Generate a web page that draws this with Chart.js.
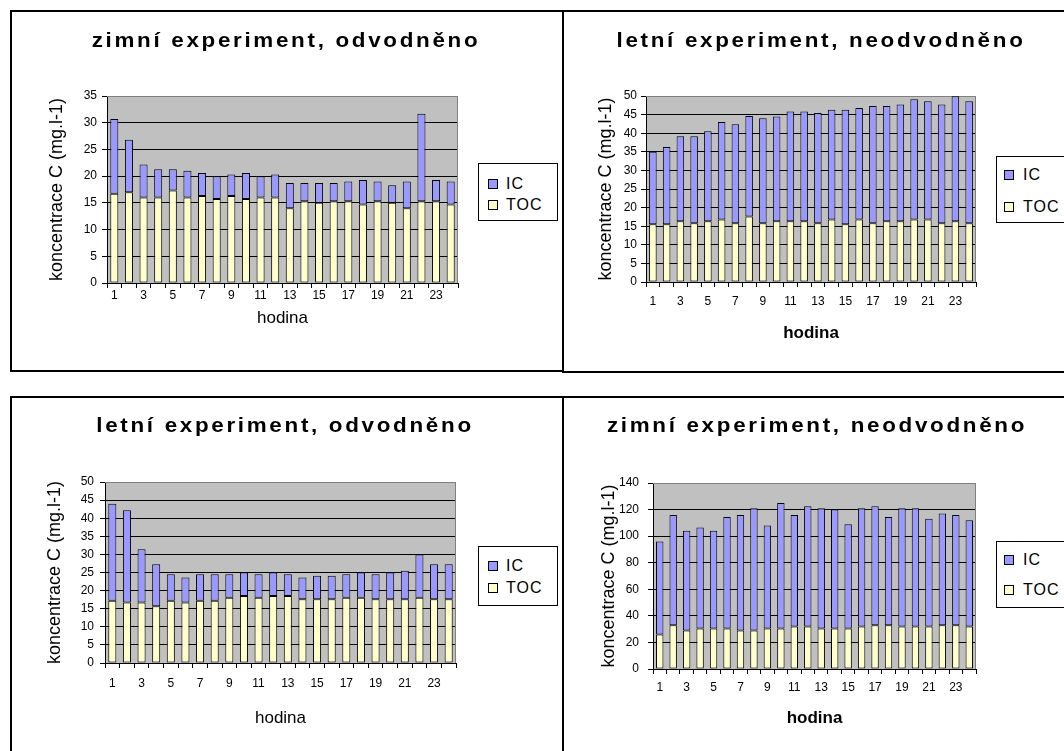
<!DOCTYPE html>
<html>
<head>
<meta charset="utf-8">
<script src="https://cdn.jsdelivr.net/npm/chart.js@4.4.1/dist/chart.umd.min.js"></script>
<style>
  body { margin: 0; width: 1064px; height: 751px; overflow: hidden; background: #fff; position: relative;
         font-family: "Liberation Sans", Arial, sans-serif; color: #000; }
  .panel { position: absolute; border: 2px solid #000; box-sizing: border-box; }
  canvas { position: absolute; }
  .title { position: absolute; width: 600px; text-align: center; font-weight: bold; font-size: 20px;
           line-height: 22px; letter-spacing: 2.4px; white-space: nowrap; transform: scaleX(1.12); }
  .legend { position: absolute; border: 1px solid #000; background: #fff; box-sizing: border-box; }
  .item { position: absolute; font-size: 16px; line-height: 18px; letter-spacing: 1px; white-space: nowrap; }
  .swatch { position: absolute; width: 10px; height: 10px; border: 1px solid #000; box-sizing: border-box; }
</style>
</head>
<body>
<div class="panel" style="left:10px;top:10px;width:554px;height:362px"></div>
<div class="panel" style="left:562px;top:10px;width:600px;height:363px"></div>
<div class="panel" style="left:10px;top:396px;width:554px;height:400px"></div>
<div class="panel" style="left:562px;top:396px;width:600px;height:400px"></div>

<canvas id="c1" width="550" height="358" style="left:12px;top:12px"></canvas>
<canvas id="c2" width="500" height="359" style="left:564px;top:12px"></canvas>
<canvas id="c3" width="550" height="353" style="left:12px;top:398px"></canvas>
<canvas id="c4" width="500" height="353" style="left:564px;top:398px"></canvas>

<script>
// hodiny 1..24
const hours = ['1','2','3','4','5','6','7','8','9','10','11','12','13','14','15','16','17','18','19','20','21','22','23','24'];

// zimni experiment, odvodneno
const tocZimaOdv = [16.7,17,16,16,17.3,16,16.3,15.7,16.3,15.7,16,16,14,15.3,15,15.3,15.3,14.7,15.3,15,14,15.3,15.3,14.7];
const icZimaOdv  = [14.0,9.8,6.2,5.3,4.0,5.0,4.3,4.3,4.0,4.9,4.0,4.3,4.7,3.4,3.7,3.4,3.7,4.6,3.7,3.3,5.0,16.4,4.0,4.3];

// letni experiment, neodvodneno
const tocLetoNeodv = [15.5,15.5,16.3,15.8,16.3,16.8,15.8,17.6,15.8,16.3,16.3,16.3,15.8,16.8,15.5,16.8,15.8,16.3,16.3,16.8,16.8,15.8,16.3,15.8];
const icLetoNeodv  = [19.5,20.8,22.9,23.4,24.2,26.2,26.6,27.0,28.2,28.2,29.5,29.5,29.6,29.5,30.8,30.0,31.5,31.0,31.4,32.3,31.8,31.9,33.6,32.8];

// letni experiment, odvodneno
const tocLetoOdv = [17.2,16.7,16.7,15.7,17.2,16.7,17.2,17.2,18,18.5,18,18.5,18.5,17.6,17.6,17.6,18,18,17.6,17.6,17.6,18,17.6,17.6];
const icLetoOdv  = [26.8,25.5,14.7,11.6,7.3,6.9,7.3,7.3,6.5,6.5,6.5,6.5,6.0,6.0,6.5,6.5,6.5,7.0,6.9,7.4,7.9,12.0,9.7,9.7];

// zimni experiment, neodvodneno
const tocZimaNeodv = [26,33,29,30.5,30.5,30.5,29,29,30.5,30.5,32,32,30.5,30.5,30.5,32,33,33,32,32,32,33,33,32];
const icZimaNeodv  = [70,83,75,76,73.5,84,87,92,77.5,94.5,84,90.5,90.5,89.5,78.5,89,89.5,81.5,89,89,81,84,83,80];

const FONT = '"Liberation Sans", Arial, sans-serif';

// gray plot area with darker frame on top and right, like Excel
const plotBg = {
  id: 'plotBg',
  beforeDraw(chart) {
    const { ctx, chartArea: a } = chart;
    ctx.save();
    ctx.fillStyle = '#c0c0c0';
    ctx.fillRect(a.left, a.top, a.right - a.left, a.bottom - a.top);
    ctx.restore();
  },
  beforeDatasetsDraw(chart) {
    const { ctx, chartArea: a } = chart;
    ctx.save();
    ctx.strokeStyle = '#808080';
    ctx.lineWidth = 1;
    ctx.beginPath();
    ctx.moveTo(a.left, Math.round(a.top) + 0.5);
    ctx.lineTo(Math.round(a.right) - 0.5, Math.round(a.top) + 0.5);
    ctx.lineTo(Math.round(a.right) - 0.5, a.bottom);
    ctx.stroke();
    ctx.restore();
  }
};

// box = canvas position on page, area = plot area on page (all in page px)
function makeChart(id, box, area, toc, ic, yMax, yStep, pos) {
  const canvas = document.getElementById(id);
  const padTop = area.t - box.top;
  const padRight = box.left + box.width - area.r;
  const yWidth = area.l - box.left;
  const xHeight = box.top + box.height - area.b;
  const tickFont = 12, yTitleFont = 18, xTitleFont = 17;
  const xLabelPad = pos.xLabelY - area.b - 5 - tickFont * 1.2 / 2;
  const yTitlePad = pos.yTitleX - box.left - yTitleFont * 1.2 / 2;
  const xTitlePad = box.top + box.height - pos.xTitleY - xTitleFont * 1.2 / 2;

  return new Chart(canvas, {
    type: 'bar',
    data: {
      labels: hours,
      datasets: [
        { label: 'TOC', data: toc, backgroundColor: '#ffffcc', borderColor: '#000', borderWidth: 1, borderSkipped: false },
        { label: 'IC', data: ic, backgroundColor: '#9999ff', borderColor: '#000', borderWidth: 1, borderSkipped: false }
      ]
    },
    options: {
      responsive: false,
      animation: false,
      devicePixelRatio: 1,
      barPercentage: 0.55,
      categoryPercentage: 1,
      layout: { padding: { left: 0, top: padTop, right: padRight, bottom: 0 } },
      plugins: { legend: { display: false }, tooltip: { enabled: false } },
      scales: {
        x: {
          stacked: true,
          grid: { drawOnChartArea: false, drawTicks: true, tickLength: 5, color: '#000', offset: true },
          border: { color: '#000' },
          ticks: {
            autoSkip: false, maxRotation: 0, padding: xLabelPad, color: '#000',
            font: { size: tickFont, family: FONT },
            callback: (v, i) => (i % 2 === 0 ? hours[i] : '')
          },
          title: {
            display: true, text: 'hodina', color: '#000',
            font: { size: xTitleFont, family: FONT, weight: pos.boldX ? 'bold' : 'normal' },
            padding: { top: 0, bottom: xTitlePad }
          },
          afterFit: s => { s.height = xHeight; }
        },
        y: {
          stacked: true,
          min: 0,
          max: yMax,
          grid: {
            color: c => (c.tick && c.tick.value === yMax ? '#808080' : '#000'),
            tickColor: '#000', tickLength: 5, drawTicks: true
          },
          border: { color: '#000' },
          ticks: { stepSize: yStep, padding: pos.yLabelPad, color: '#000', font: { size: tickFont, family: FONT } },
          title: {
            display: true, text: 'koncentrace C (mg.l-1)', color: '#000',
            font: { size: yTitleFont, family: FONT },
            padding: { top: yTitlePad, bottom: 0 }
          },
          afterFit: s => { s.width = yWidth; }
        }
      }
    },
    plugins: [plotBg]
  });
}

makeChart('c1', { left: 12, top: 12, width: 550, height: 358 }, { l: 107, t: 96, r: 458, b: 283 },
  tocZimaOdv, icZimaOdv, 35, 5, { yTitleX: 57, yLabelPad: 5, xLabelY: 296, xTitleY: 318, boldX: false });
makeChart('c2', { left: 564, top: 12, width: 500, height: 359 }, { l: 646, t: 96, r: 976, b: 282 },
  tocLetoNeodv, icLetoNeodv, 50, 5, { yTitleX: 606, yLabelPad: 4, xLabelY: 302, xTitleY: 333, boldX: true });
makeChart('c3', { left: 12, top: 398, width: 550, height: 353 }, { l: 105, t: 482, r: 456, b: 663 },
  tocLetoOdv, icLetoOdv, 50, 5, { yTitleX: 55, yLabelPad: 6, xLabelY: 684, xTitleY: 718, boldX: false });
makeChart('c4', { left: 564, top: 398, width: 500, height: 353 }, { l: 653, t: 483, r: 976, b: 669 },
  tocZimaNeodv, icZimaNeodv, 140, 20, { yTitleX: 609, yLabelPad: 9, xLabelY: 688, xTitleY: 718, boldX: true });

// titles and legends as html on top
const titles = [
  ['zimní experiment, odvodněno', 286, 40],
  ['letní experiment, neodvodněno', 821, 40],
  ['letní experiment, odvodněno', 285, 425],
  ['zimní experiment, neodvodněno', 817, 425]
];
titles.forEach(([text, cx, cy]) => {
  const d = document.createElement('div');
  d.className = 'title';
  d.style.left = (cx - 300) + 'px';
  d.style.top = (cy - 11) + 'px';
  d.textContent = text;
  document.body.appendChild(d);
});

const legends = [
  { box: [478, 163, 80, 58], sx: 488, tx: 506, ys: [184, 205] },
  { box: [996, 156, 100, 67], sx: 1004, tx: 1023, ys: [175, 207] },
  { box: [478, 546, 80, 60], sx: 488, tx: 506, ys: [566, 588] },
  { box: [996, 541, 100, 67], sx: 1004, tx: 1023, ys: [560, 590] }
];
legends.forEach(lg => {
  const b = document.createElement('div');
  b.className = 'legend';
  b.style.left = lg.box[0] + 'px';
  b.style.top = lg.box[1] + 'px';
  b.style.width = lg.box[2] + 'px';
  b.style.height = lg.box[3] + 'px';
  document.body.appendChild(b);
  [['IC', '#9999ff'], ['TOC', '#ffffcc']].forEach(([name, col], k) => {
    const sw = document.createElement('div');
    sw.className = 'swatch';
    sw.style.left = lg.sx + 'px';
    sw.style.top = (lg.ys[k] - 5) + 'px';
    sw.style.background = col;
    document.body.appendChild(sw);
    const t = document.createElement('div');
    t.className = 'item';
    t.style.left = lg.tx + 'px';
    t.style.top = (lg.ys[k] - 9) + 'px';
    t.textContent = name;
    document.body.appendChild(t);
  });
});
</script>
</body>
</html>
